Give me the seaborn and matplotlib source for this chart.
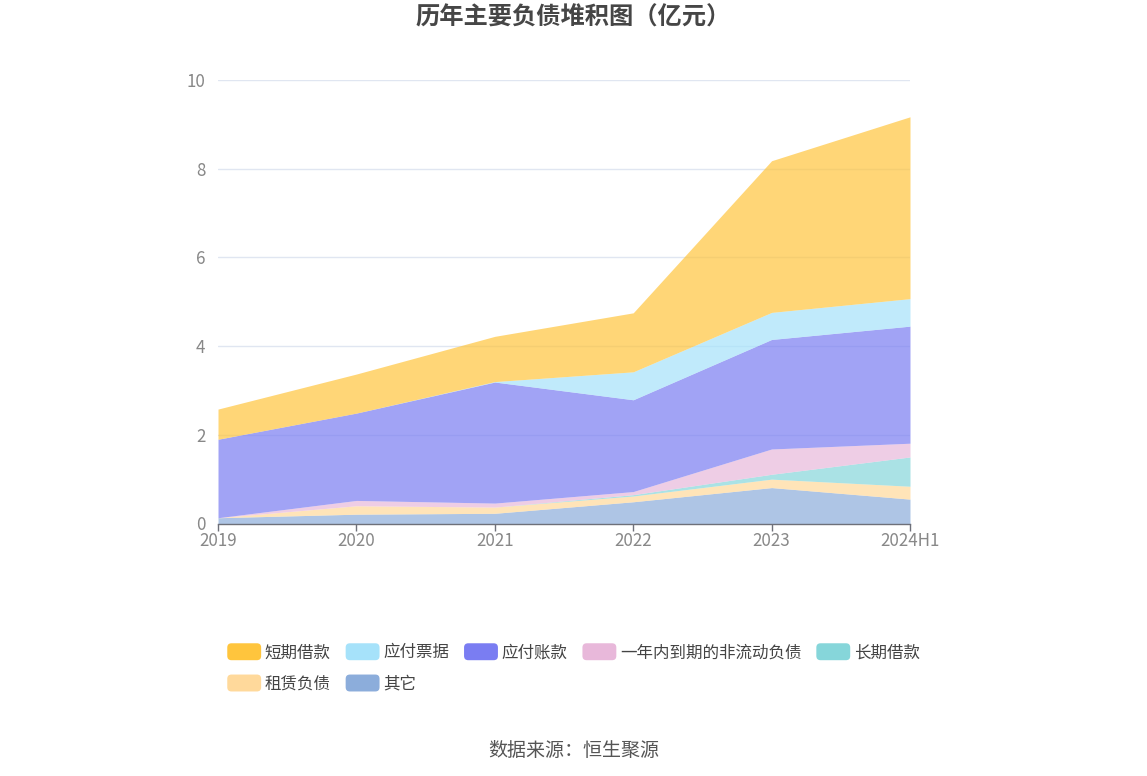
import numpy as np
import pandas as pd
import matplotlib
matplotlib.use("Agg")
import matplotlib.pyplot as plt
from matplotlib.patches import FancyBboxPatch, Patch
from matplotlib.legend_handler import HandlerPatch
import seaborn as sns

# ---- data (亿元) ----
periods = ["2019", "2020", "2021", "2022", "2023", "2024H1"]
series_names = ["其它", "租赁负债", "长期借款", "一年内到期的非流动负债", "应付账款", "应付票据", "短期借款"]
other = [0.13, 0.21, 0.23, 0.49, 0.81, 0.55]
lease = [0.00, 0.19, 0.14, 0.13, 0.19, 0.29]
long_loan = [0.00, 0.00, 0.00, 0.03, 0.11, 0.66]
current_noncurrent = [0.00, 0.12, 0.09, 0.07, 0.57, 0.31]
accounts_payable = [1.77, 1.97, 2.73, 2.07, 2.47, 2.64]
notes_payable = [0.00, 0.00, 0.01, 0.63, 0.61, 0.62]
short_loan = [0.68, 0.88, 1.02, 1.33, 3.42, 4.10]
y_ticks = [0, 2, 4, 6, 8, 10]
legend_order = ["短期借款", "应付票据", "应付账款", "一年内到期的非流动负债", "长期借款", "租赁负债", "其它"]

colors = {
    "短期借款": "#FFC53D",
    "应付票据": "#A6E2FA",
    "应付账款": "#7A7DF2",
    "一年内到期的非流动负债": "#E8B8DA",
    "长期借款": "#86D6DA",
    "租赁负债": "#FFD99B",
    "其它": "#8CADDB",
}

df = pd.DataFrame({
    "其它": other, "租赁负债": lease, "长期借款": long_loan,
    "一年内到期的非流动负债": current_noncurrent, "应付账款": accounts_payable,
    "应付票据": notes_payable, "短期借款": short_loan,
}, index=periods)

sns.set_theme(style="white")
plt.rcParams['font.family'] = ['Noto Sans CJK SC', 'DejaVu Sans']


class RoundHandler(HandlerPatch):
    def create_artists(self, legend, orig_handle, xdescent, ydescent,
                       width, height, fontsize, trans):
        p = FancyBboxPatch((-xdescent, -ydescent), width, height,
                           boxstyle="round,pad=0,rounding_size=%f" % (height * 0.25),
                           facecolor=orig_handle.get_facecolor(), edgecolor="none",
                           transform=trans)
        return [p]


fig = plt.figure(figsize=(11.47, 7.76), dpi=100)
ax = fig.add_axes([218/1147, 1-523.5/776, (910-218)/1147, (523.5-80)/776])

x = np.arange(len(periods))
ax.stackplot(x, *[df[n].values for n in series_names],
             colors=[colors[n] for n in series_names], alpha=0.7,
             linewidth=0, zorder=2)

ax.set_xlim(0, len(periods)-1)
ax.set_ylim(0, 10)
ax.set_yticks(y_ticks)
ax.set_xticks(x)
ax.set_xticklabels(periods)
for yv in y_ticks[1:]:
    ax.axhline(yv, color="#E0E6F1", linewidth=1, zorder=1)

for s in ["top", "right", "left"]:
    ax.spines[s].set_visible(False)
ax.spines["bottom"].set_color("#6E7079")
ax.spines["bottom"].set_linewidth(1)
ax.spines["bottom"].set_zorder(3)
ax.tick_params(axis="x", colors="#6E7079", length=5, width=1, direction="out",
               labelcolor="#888888", labelsize=12.2, pad=1)
ax.tick_params(axis="y", length=0, labelcolor="#888888", labelsize=12.2, pad=9)
ax.tick_params(axis="x", bottom=True)

fig.text(0.5, 1-18/776, "历年主要负债堆积图（亿元）", ha="center", va="center",
         fontsize=17.5, fontweight="bold", color="#464646")
fig.text(0.5, 1-750/776, "数据来源：恒生聚源", ha="center", va="center",
         fontsize=13.7, color="#555555")

# legend: reorder for row-major fill with ncol=5
handles = {n: Patch(facecolor=colors[n], edgecolor="none") for n in legend_order}
order = [legend_order[i] for i in [0, 5, 1, 6, 2, 3, 4]]
leg = fig.legend([handles[n] for n in order], order, ncol=5,
                 loc="upper left", bbox_to_anchor=(219/1147, 1-635/776),
                 frameon=False, fontsize=11.9, handlelength=2.05, handleheight=1.2,
                 handletextpad=0.22, columnspacing=0.9, labelspacing=0.8,
                 borderpad=0, labelcolor="#444444",
                 handler_map={Patch: RoundHandler()})

fig.savefig("out.png", dpi=100)
